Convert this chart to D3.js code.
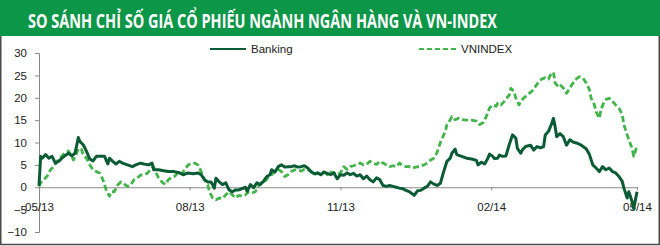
<!DOCTYPE html>
<html><head><meta charset="utf-8">
<script src="https://cdn.jsdelivr.net/npm/d3@7"></script>
<style>html,body{margin:0;padding:0;background:#fff;}svg{display:block;}</style>
</head><body>
<svg id="c" width="660" height="246"></svg>
<script>
const title = "SO SÁNH CHỈ SỐ GIÁ CỔ PHIẾU NGÀNH NGÂN HÀNG VÀ VN-INDEX";
const seriesNames = ["Banking", "VNINDEX"];
const yTicks = [30, 25, 20, 15, 10, 5, 0, -5, -10];
const xTickLabels = ["05/13", "08/13", "11/13", "02/14", "05/14"];
const xTickDates = ["2013-05-01", "2013-08-01", "2013-11-01", "2014-02-01", "2014-05-01"];
const startDate = "2013-05-01";
// days since 2013-05-01
const bankDays = [0,1,2,4,6,8,10,12,14,16,18,20,22,24,25,27,29,31,33,35,38,40,42,43,45,47,49,51,54,57,59,62,64,67,69,70,73,76,79,82,85,88,91,94,97,99,101,103,105,107,108,110,112,114,116,118,120,122,126,127,129,131,133,135,137,139,141,142,144,146,148,150,152,154,156,158,160,162,164,166,168,170,172,174,176,178,180,182,184,186,188,190,192,194,196,198,200,202,204,206,208,210,212,214,216,218,220,222,224,226,228,229,231,233,235,237,239,241,243,245,247,249,251,252,254,255,258,261,264,267,268,270,272,274,275,277,278,280,281,283,285,287,289,291,292,294,295,297,300,302,304,306,308,309,311,313,314,315,316,318,320,322,324,326,328,331,334,336,338,340,342,344,346,348,350,352,354,356,357,359,360,362,363,365];
const bankValues = [0.3,6.9,6.5,7.3,6.5,6.9,5.4,5.8,6.5,7.1,7.6,7.0,7.6,11.1,10.2,9.5,8.0,6.3,5.9,6.9,6.9,6.9,5.2,6.5,5.8,5.2,5.8,5.4,5.0,4.6,5.0,5.4,5.2,5.0,5.4,3.9,3.9,3.7,3.5,3.5,3.3,2.8,3.2,3.0,3.2,2.8,1.7,1.2,1.2,-0.2,2.0,1.2,0.6,1.0,-0.6,-1.0,-0.6,-0.6,0.0,-0.9,0.6,-0.1,1.0,0.6,1.3,2.4,2.8,3.9,3.4,4.6,5.0,4.5,4.6,4.6,4.8,4.5,4.6,4.8,4.3,3.5,3.0,3.2,2.8,3.4,3.1,2.8,3.2,1.9,2.8,2.7,3.2,2.8,3.1,2.5,2.8,1.9,2.5,1.7,1.2,2.1,1.7,0.4,0.2,0.4,0.2,0.0,-0.2,-0.3,-0.7,-1.0,-1.5,-1.8,-0.8,-0.7,-0.2,0.2,1.2,0.7,0.4,0.9,3.5,5.8,6.5,7.6,8.5,7.3,6.9,6.5,6.3,6.0,5.0,5.6,5.2,6.5,7.4,6.9,6.4,6.5,7.2,6.9,7.0,9.5,11.7,11.0,8.7,7.6,8.3,9.1,9.4,8.3,9.1,8.8,9.1,11.7,12.5,14.3,15.4,13.6,11.3,12.0,11.3,9.4,10.6,10.1,9.9,9.4,8.6,7.3,5.0,4.3,3.5,4.6,3.9,4.3,3.5,3.2,2.4,1.3,-0.2,-2.4,-1.0,-3.2,-4.8,-1.0];
const vnDays = [0,1,3,5,7,9,11,13,15,18,20,21,23,24,26,27,29,31,33,35,37,39,41,43,44,46,48,50,52,54,56,58,60,62,64,66,68,70,71,73,75,77,79,81,83,85,87,89,91,93,95,97,99,101,103,104,106,108,110,112,114,116,118,120,122,124,126,128,130,132,134,136,138,140,142,144,146,148,150,152,154,156,158,160,162,164,166,168,170,172,174,176,178,180,182,184,186,188,190,192,194,196,198,200,202,204,206,208,210,212,214,216,218,220,222,224,226,228,230,232,235,237,239,241,243,245,248,249,251,252,254,256,258,261,264,267,269,271,273,275,277,279,280,282,284,287,288,290,291,293,294,296,298,301,303,305,307,309,311,312,314,315,317,318,320,322,324,326,328,330,332,334,336,337,339,340,342,343,345,346,348,350,352,354,356,357,359,360,362,363,364,365];
const vnValues = [0.2,1.0,1.7,2.5,3.9,4.6,5.8,6.5,7.4,8.1,6.9,6.1,7.6,8.7,8.4,7.2,6.5,5.0,3.9,3.5,3.2,1.7,-0.6,-2.0,-1.0,-1.0,0.5,1.2,0.7,0.2,0.5,1.7,2.1,2.7,2.8,3.1,3.9,4.6,3.5,2.1,1.2,0.6,1.7,2.2,2.5,3.4,3.0,3.9,5.0,5.2,5.4,5.0,3.5,1.7,0.6,-1.0,-2.4,-2.8,-2.4,-2.5,-1.7,-1.0,-1.7,-2.4,-1.8,-2.0,-1.7,-1.0,-1.3,-1.0,0.3,1.2,1.4,2.2,2.8,3.6,4.0,3.5,2.4,2.8,3.5,3.9,3.9,3.6,4.0,3.9,3.5,2.8,3.2,3.0,3.4,2.8,3.4,3.2,2.8,3.2,4.6,4.0,4.6,4.8,5.1,5.4,5.0,5.1,5.8,5.4,5.1,5.8,5.4,5.0,4.6,4.8,4.6,5.4,4.8,4.6,4.6,4.3,4.5,4.6,5.0,5.4,6.1,6.5,7.8,10.0,12.5,14.0,15.1,15.8,15.1,15.4,15.1,15.0,15.0,14.8,14.0,14.4,15.8,17.7,18.4,18.1,18.8,18.4,19.2,20.6,22.1,21.4,19.9,18.4,19.2,20.0,20.6,21.5,22.5,23.6,24.2,24.5,24.2,25.0,25.7,23.3,22.5,22.9,22.2,21.0,22.2,23.3,24.2,24.7,24.4,23.3,21.8,19.9,18.4,16.9,15.4,17.3,19.2,19.6,19.9,19.2,18.4,17.7,16.2,14.0,11.7,10.6,8.7,6.9,8.0,9.5];

const svg = d3.select("#c");
const parse = d3.timeParse("%Y-%m-%d");
const t0 = parse(startDate);
const toDate = d => d3.timeDay.offset(t0, d);

// frame
svg.append("rect").attr("x", 0.75).attr("y", 30).attr("width", 658.5).attr("height", 214.5)
  .attr("fill", "#fff").attr("stroke", "#4a4a4a").attr("stroke-width", 1.5);
// header
svg.append("rect").attr("x", 0).attr("y", 0).attr("width", 660).attr("height", 36).attr("fill", "#0c9748");
svg.append("text").attr("x", 28).attr("y", 27.5).text(title)
  .attr("fill", "#fff").attr("font-family", "'Open Sans', 'DejaVu Sans', sans-serif")
  .attr("font-weight", "bold").attr("font-size", 19)
  .attr("textLength", 469).attr("lengthAdjust", "spacingAndGlyphs");

const x = d3.scaleTime().domain([parse(xTickDates[0]), parse(xTickDates[4])]).range([39, 637]);
const y = d3.scaleLinear().domain([-10, 30]).range([232, 53]);

const font = "'Liberation Sans', Arial, sans-serif";
// y axis
const yAxis = svg.append("g").attr("transform", "translate(39,0)")
  .call(d3.axisLeft(y).tickValues(yTicks).tickSize(4).tickPadding(8).tickFormat(d3.format("d")));
yAxis.selectAll("path,line").attr("stroke", "#8a8a8a");
yAxis.selectAll("text").attr("font-family", font).attr("font-size", 11.5).attr("fill", "#222");

// x axis at 0
const xAxis = svg.append("g").attr("transform", `translate(0,${y(0)})`)
  .call(d3.axisBottom(x).tickValues(xTickDates.map(parse)).tickSize(3).tickPadding(13)
    .tickFormat((d, i) => xTickLabels[i]).tickSizeOuter(0));
xAxis.selectAll("path,line").attr("stroke", "#8a8a8a");
xAxis.selectAll("text").attr("font-family", font).attr("font-size", 11.5).attr("fill", "#222");

const line = d3.line().x(d => x(toDate(d[0]))).y(d => y(d[1]));
const vn = vnDays.map((d, i) => [d, vnValues[i]]);
const bk = bankDays.map((d, i) => [d, bankValues[i]]);

svg.append("path").attr("d", line(vn)).attr("fill", "none")
  .attr("stroke", "#42b54a").attr("stroke-width", 2.8).attr("stroke-dasharray", "6,3")
  .attr("stroke-linejoin", "round");
svg.append("path").attr("d", line(bk)).attr("fill", "none")
  .attr("stroke", "#0b5c34").attr("stroke-width", 3).attr("stroke-linejoin", "round");

// legend
const lg = [
  {name: seriesNames[0], x1: 210, x2: 246, tx: 251, color: "#0b5c34", dash: null, w: 2},
  {name: seriesNames[1], x1: 419, x2: 457, tx: 461, color: "#42b54a", dash: "5,3", w: 2}
];
lg.forEach(l => {
  svg.append("line").attr("x1", l.x1).attr("x2", l.x2).attr("y1", 49).attr("y2", 49)
    .attr("stroke", l.color).attr("stroke-width", l.w).attr("stroke-dasharray", l.dash);
  svg.append("text").attr("x", l.tx).attr("y", 53).text(l.name)
    .attr("font-family", font).attr("font-size", 11.5).attr("fill", "#222");
});
</script>
</body></html>
